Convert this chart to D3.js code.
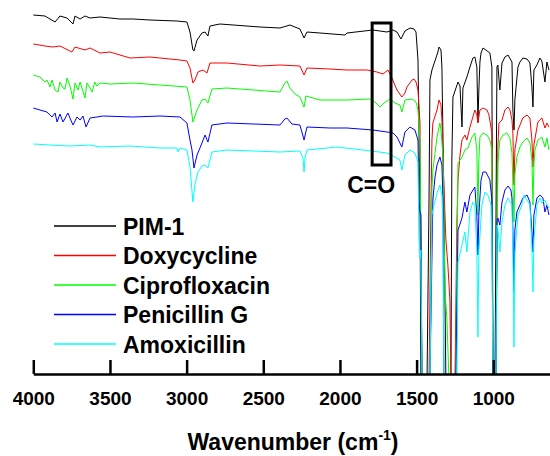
<!DOCTYPE html>
<html><head>
<meta charset="utf-8">
<script src="https://cdn.jsdelivr.net/npm/d3@7"></script>
<style>
  body { margin: 0; background: #fff; }
  text { font-family: "Liberation Sans", Arial, sans-serif; font-weight: bold; }
</style>
</head>
<body>
<script>

  // FTIR spectra: [wavenumber cm-1, transmittance (a.u., stacked)]
  var pim1 = [[4000,359],[3924,358],[3858,352],[3826,358],[3780,356],[3741,350],[3728,358],[3695,355],[3663,358],[3630,356],[3565,357],[3435,355],[3350,355],[3239,354],[3063,353],[2998,352],[2978,342],[2959,324],[2952,323],[2932,334],[2900,341],[2880,342],[2861,338],[2848,348],[2783,350],[2522,347],[2391,346],[2326,349],[2261,345],[2234,336],[2215,342],[2130,341],[1967,339],[1954,341],[1785,344],[1693,342],[1654,344],[1628,342],[1602,335],[1576,343],[1543,346],[1517,345],[1504,342],[1491,314],[1478,174],[1472,-6],[1432,-6],[1419,174],[1413,294],[1400,304],[1374,316],[1361,322],[1354,327],[1341,324],[1335,307],[1322,174],[1309,-6],[1276,-6],[1270,214],[1263,277],[1230,292],[1217,288],[1204,247],[1198,286],[1172,297],[1152,307],[1133,316],[1120,317],[1107,307],[1100,252],[1094,284],[1087,312],[1080,321],[1067,326],[1048,324],[1022,321],[1009,307],[1002,-6],[989,-6],[976,307],[970,309],[957,284],[943,311],[924,317],[904,319],[878,312],[872,264],[865,244],[859,274],[839,307],[826,312],[807,316],[780,315],[761,311],[748,287],[741,267],[735,304],[715,309],[696,316],[683,313],[663,292],[650,312],[637,304]];

  var doxycycline = [[4000,330],[3924,328],[3872,327],[3826,328],[3748,322],[3728,327],[3663,324],[3630,326],[3565,321],[3500,322],[3369,316],[3239,317],[3043,314],[2998,313],[2978,306],[2959,291],[2946,294],[2926,302],[2893,304],[2867,301],[2848,311],[2737,311],[2522,308],[2391,309],[2261,308],[2234,299],[2215,306],[2065,305],[1954,304],[1824,304],[1759,302],[1719,300],[1687,304],[1661,296],[1628,284],[1596,277],[1576,281],[1563,287],[1530,294],[1517,295],[1504,292],[1491,284],[1478,251],[1472,124],[1465,-6],[1419,-6],[1406,174],[1400,234],[1394,251],[1367,264],[1354,274],[1341,269],[1335,254],[1328,214],[1309,134],[1296,109],[1283,74],[1276,-6],[1250,-6],[1237,154],[1230,194],[1217,219],[1204,234],[1185,239],[1172,234],[1152,247],[1133,257],[1120,264],[1107,259],[1100,251],[1087,264],[1067,266],[1041,264],[1028,259],[1009,241],[1002,-6],[983,-6],[970,227],[963,251],[943,254],[924,264],[904,267],[891,264],[878,254],[872,241],[865,189],[859,224],[839,244],[807,256],[780,259],[761,256],[748,234],[741,207],[735,229],[709,252],[683,256],[663,246],[650,251],[637,247]];

  var ciprofloxacin = [[4000,299],[3956,297],[3924,292],[3911,294],[3891,287],[3878,294],[3858,284],[3839,282],[3826,292],[3806,286],[3793,285],[3780,296],[3761,288],[3741,275],[3728,291],[3708,284],[3695,292],[3663,276],[3650,291],[3630,286],[3617,282],[3598,292],[3585,288],[3565,291],[3500,290],[3350,291],[3174,289],[2998,287],[2978,274],[2959,252],[2932,264],[2900,274],[2880,275],[2861,271],[2835,285],[2737,286],[2391,282],[2359,291],[2346,293],[2326,286],[2293,280],[2261,277],[2234,267],[2222,278],[2130,274],[1954,274],[1804,275],[1772,272],[1739,267],[1713,271],[1693,273],[1674,275],[1641,271],[1609,269],[1596,262],[1576,274],[1530,275],[1504,272],[1491,264],[1478,234],[1472,114],[1465,-6],[1413,-6],[1400,184],[1394,204],[1367,237],[1348,251],[1341,244],[1328,217],[1315,84],[1302,54],[1289,-6],[1244,-6],[1230,211],[1204,217],[1185,224],[1165,226],[1139,237],[1120,241],[1107,224],[1100,159],[1094,214],[1087,237],[1067,241],[1041,239],[1022,234],[1009,224],[1002,-6],[983,-6],[970,211],[957,234],[937,239],[911,241],[891,236],[878,221],[865,152],[859,199],[846,217],[826,227],[807,232],[780,236],[761,231],[748,214],[741,169],[735,209],[728,224],[709,234],[683,237],[663,227],[650,236],[637,224]];

  var penicillinG = [[4000,266],[3956,264],[3911,262],[3878,257],[3858,261],[3845,252],[3826,260],[3806,252],[3774,261],[3761,256],[3741,249],[3715,257],[3695,254],[3676,258],[3656,247],[3630,256],[3585,257],[3545,258],[3350,257],[3174,258],[3043,257],[2998,251],[2978,234],[2965,224],[2952,206],[2932,219],[2900,231],[2880,239],[2861,232],[2835,249],[2737,251],[2391,249],[2359,255],[2346,256],[2313,250],[2261,249],[2234,234],[2215,247],[2065,246],[1954,246],[1785,244],[1693,242],[1654,241],[1628,237],[1596,227],[1576,242],[1543,247],[1511,244],[1491,234],[1485,174],[1478,162],[1472,159],[1465,-6],[1413,-6],[1394,174],[1380,197],[1367,209],[1348,217],[1335,209],[1328,174],[1322,-6],[1244,-6],[1230,144],[1204,156],[1185,172],[1172,162],[1152,179],[1120,187],[1107,159],[1100,119],[1094,159],[1080,194],[1067,202],[1048,202],[1022,194],[1009,174],[1002,-6],[983,-6],[976,154],[970,156],[957,149],[943,172],[924,184],[904,188],[885,184],[878,176],[872,144],[865,82],[859,144],[846,162],[826,169],[807,176],[780,179],[761,172],[748,142],[741,122],[735,159],[715,176],[696,179],[676,176],[663,162],[650,169],[637,159]];

  var amoxicillin = [[4000,230],[3891,229],[3761,228],[3630,229],[3565,227],[3369,228],[3174,226],[3063,226],[3056,222],[3043,226],[2998,224],[2978,207],[2959,172],[2946,189],[2926,202],[2900,208],[2880,209],[2861,206],[2848,214],[2835,222],[2737,224],[2391,222],[2261,223],[2241,216],[2234,202],[2228,216],[2215,224],[2019,227],[1850,224],[1693,221],[1641,217],[1609,214],[1596,204],[1576,219],[1543,224],[1511,221],[1491,212],[1485,134],[1478,116],[1472,124],[1465,-6],[1413,-6],[1400,159],[1387,169],[1367,181],[1348,189],[1335,179],[1328,144],[1322,-6],[1237,-6],[1230,112],[1204,129],[1185,142],[1172,122],[1152,162],[1133,172],[1120,169],[1107,122],[1100,37],[1094,122],[1074,169],[1054,182],[1035,179],[1015,169],[1009,134],[1002,-6],[983,-6],[976,149],[970,146],[957,122],[943,152],[924,169],[904,176],[878,169],[872,122],[865,27],[859,122],[839,159],[813,169],[800,179],[780,174],[761,169],[748,126],[741,82],[735,134],[715,169],[696,176],[683,171],[663,174],[650,169],[637,166]];

  var seriesData = [pim1, doxycycline, ciprofloxacin, penicillinG, amoxicillin];
  var names = ["PIM-1", "Doxycycline", "Ciprofloxacin", "Penicillin G", "Amoxicillin"];
  var colors = ["#000000", "#ff0000", "#00ff00", "#0000ff", "#00ffff"];
  var xTicks = [4000, 3500, 3000, 2500, 2000, 1500, 1000];
  var coBand = [1790, 1667];   // C=O region box, cm-1
  var coLevel = [209, 351];    // box bottom / top, a.u.

  let width = 550, height = 456;
  let svg = d3.select("body").append("svg").attr("width", width).attr("height", height);

  let axisY = 374;
  let xScale = d3.scaleLinear().domain([4000, 630]).range([33.3, 550]);
  let yScale = d3.scaleLinear().domain([0, 374]).range([axisY, 0]);

  svg.append("clipPath").attr("id", "plotclip")
    .append("rect").attr("x", 33).attr("y", 0).attr("width", width - 33).attr("height", axisY);

  let line = d3.line().x(d => xScale(d[0])).y(d => yScale(d[1]));

  let plot = svg.append("g").attr("clip-path", "url(#plotclip)");
  seriesData.forEach(function(s, i) {
    plot.append("path").datum(s)
      .attr("d", line)
      .attr("fill", "none")
      .attr("stroke", colors[i])
      .attr("stroke-width", 1)
      .attr("stroke-linejoin", "round");
  });

  // C=O box
  svg.append("rect")
    .attr("x", xScale(coBand[0])).attr("y", yScale(coLevel[1]))
    .attr("width", xScale(coBand[1]) - xScale(coBand[0]))
    .attr("height", yScale(coLevel[0]) - yScale(coLevel[1]))
    .attr("fill", "none").attr("stroke", "#000").attr("stroke-width", 3);
  svg.append("text")
    .attr("x", xScale(coBand[0]) - 1).attr("y", 193)
    .attr("text-anchor", "middle")
    .attr("font-size", 23)
    .text("C=O");

  // x axis, ticks pointing inward
  let xAxis = d3.axisBottom(xScale).tickValues(xTicks).tickSizeInner(-14).tickSizeOuter(0).tickPadding(18).tickFormat(d3.format("d"));
  let gx = svg.append("g").attr("transform", "translate(0," + axisY + ")").call(xAxis);
  gx.select(".domain").attr("stroke", "#000").attr("stroke-width", 2.5);
  gx.selectAll(".tick line").attr("stroke", "#000").attr("stroke-width", 2.5);
  gx.selectAll(".tick text").attr("font-size", 19).attr("font-family", "'Liberation Sans', Arial, sans-serif").attr("font-weight", "bold").attr("fill", "#000");

  let title = svg.append("text").attr("x", 293).attr("y", 450).attr("text-anchor", "middle").attr("font-size", 23);
  title.append("tspan").text("Wavenumber (cm");
  title.append("tspan").attr("font-size", 14).attr("dy", -10).text("-1");
  title.append("tspan").attr("dy", 10).text(")");

  // legend
  let legend = svg.append("g");
  names.forEach(function(n, i) {
    let y = 226 + i * 29.5;
    legend.append("line").attr("x1", 54).attr("x2", 116).attr("y1", y).attr("y2", y)
      .attr("stroke", colors[i]).attr("stroke-width", 1.3);
    legend.append("text").attr("x", 123).attr("y", y + 8.5).attr("font-size", 23).text(n);
  });

</script>
</body>
</html>
